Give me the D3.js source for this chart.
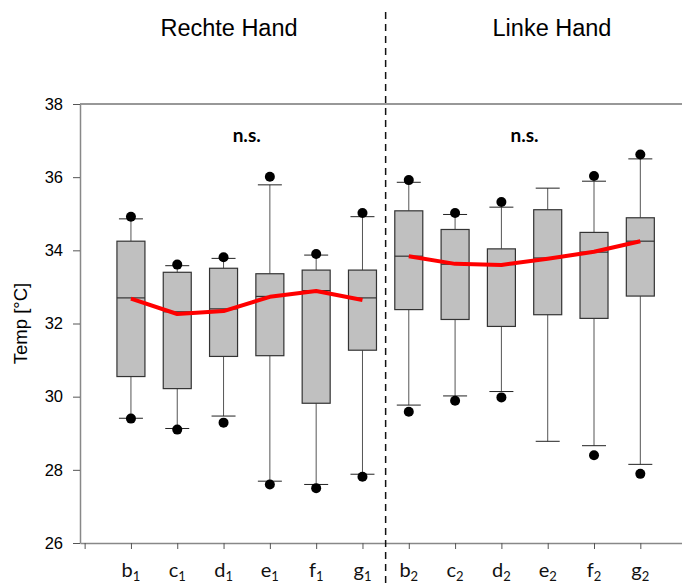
<!DOCTYPE html>
<html><head><meta charset="utf-8">
<script src="https://cdn.jsdelivr.net/npm/d3@7"></script>
<style>body{margin:0;background:#fff}svg{display:block}</style>
</head><body>
<svg id="c" width="682" height="584"></svg>
<script>
// ---- data ----
const groups = ["Rechte Hand", "Linke Hand"];
const catBase = ["b","c","d","e","f","g","b","c","d","e","f","g"];
const catSub  = ["1","1","1","1","1","1","2","2","2","2","2","2"];
const whiskerHigh = [34.86, 33.58, 33.78, 35.79, 33.87, 34.92, 35.86, 34.98, 35.18, 35.70, 35.89, 36.50];
const q3          = [34.25, 33.40, 33.51, 33.36, 33.46, 33.46, 35.08, 34.57, 34.04, 35.11, 34.49, 34.89];
const median      = [32.70, 32.32, 32.40, 32.74, 32.90, 32.70, 33.84, 33.62, 33.61, 33.79, 33.95, 34.25];
const q1          = [30.55, 30.22, 31.10, 31.12, 29.82, 31.27, 32.38, 32.11, 31.92, 32.24, 32.14, 32.75];
const whiskerLow  = [29.41, 29.13, 29.47, 27.69, 27.60, 27.88, 29.77, 30.02, 30.14, 28.78, 28.66, 28.15];
const dotHigh     = [34.92, 33.61, 33.81, 36.01, 33.90, 35.02, 35.92, 35.02, 35.32, null, 36.03, 36.62];
const dotLow      = [29.40, 29.10, 29.29, 27.60, 27.50, 27.81, 29.59, 29.89, 29.98, null, 28.40, 27.89];
const meanRight   = [32.68, 32.26, 32.34, 32.73, 32.89, 32.64];
const meanLeft    = [33.84, 33.63, 33.60, 33.77, 33.96, 34.25];
const yTicks = [26, 28, 30, 32, 34, 36, 38];
const annotation = "n.s.";

// ---- layout ----
const svg = d3.select("#c");
const x = d3.scaleLinear().domain([-0.1, 12.9]).range([80, 682]);
const y = d3.scaleLinear().domain([26, 38]).range([543, 104]);
const boxW = 28, capW = 24;

// top frame line
svg.append("line").attr("x1", x(-0.1)).attr("x2", 682).attr("y1", y(38)).attr("y2", y(38))
  .attr("stroke", "#333").attr("stroke-width", 1.2);

// axes
const yAxis = svg.append("g").attr("transform", `translate(${x(-0.1)},0)`)
  .call(d3.axisLeft(y).tickValues(yTicks).tickSize(7).tickSizeOuter(0).tickPadding(10));
yAxis.select(".domain").attr("stroke", "#888").attr("stroke-width", 1.5);
yAxis.selectAll(".tick line").attr("stroke", "#555");
yAxis.selectAll("text").attr("font-family", "Liberation Sans, Arial, sans-serif").attr("font-size", 16.5).attr("fill", "#000");

const xAxis = svg.append("g").attr("transform", `translate(0,${y(26)})`)
  .call(d3.axisBottom(x).tickValues(d3.range(0, 13)).tickSize(6).tickSizeOuter(0).tickFormat(""));
xAxis.select(".domain").attr("stroke", "#888").attr("stroke-width", 1.5);
xAxis.selectAll(".tick line").attr("stroke", "#555");

// x labels with subscripts
catBase.forEach((b, i) => {
  const t = svg.append("text").attr("x", x(i + 1)).attr("y", 577)
    .attr("text-anchor", "middle").attr("font-family", "Lato, 'Open Sans', sans-serif")
    .attr("font-size", 20).attr("fill", "#111");
  t.append("tspan").text(b);
  t.append("tspan").attr("font-size", 13).attr("dy", 4).text(catSub[i]);
});

// y label
svg.append("text").attr("transform", `translate(27,${(y(26)+y(38))/2}) rotate(-90)`)
  .attr("text-anchor", "middle").attr("font-family", "Liberation Sans, Arial, sans-serif")
  .attr("font-size", 18.5).attr("fill", "#000").text("Temp [°C]");

// boxes
const idx = d3.range(12);
const g = svg.append("g");
idx.forEach(i => {
  const cx = x(i + 1);
  g.append("line").attr("x1", cx).attr("x2", cx).attr("y1", y(q3[i])).attr("y2", y(whiskerHigh[i])).attr("stroke", "#555").attr("stroke-width", 1);
  g.append("line").attr("x1", cx).attr("x2", cx).attr("y1", y(q1[i])).attr("y2", y(whiskerLow[i])).attr("stroke", "#555").attr("stroke-width", 1);
  [whiskerHigh[i], whiskerLow[i]].forEach(v => {
    g.append("line").attr("x1", cx - capW/2).attr("x2", cx + capW/2).attr("y1", y(v)).attr("y2", y(v)).attr("stroke", "#222").attr("stroke-width", 1);
  });
  g.append("rect").attr("x", cx - boxW/2).attr("width", boxW).attr("y", y(q3[i])).attr("height", y(q1[i]) - y(q3[i]))
    .attr("fill", "#c0c0c0").attr("stroke", "#333").attr("stroke-width", 1.2);
  g.append("line").attr("x1", cx - boxW/2).attr("x2", cx + boxW/2).attr("y1", y(median[i])).attr("y2", y(median[i])).attr("stroke", "#333").attr("stroke-width", 1.2);
  [dotHigh[i], dotLow[i]].forEach(v => {
    if (v != null) g.append("circle").attr("cx", cx).attr("cy", y(v)).attr("r", 5).attr("fill", "#000");
  });
});

// mean lines
const line = d3.line().x(d => x(d[0])).y(d => y(d[1]));
[meanRight, meanLeft].forEach((arr, k) => {
  svg.append("path").datum(arr.map((v, j) => [k * 6 + j + 1, v]))
    .attr("d", line).attr("fill", "none").attr("stroke", "#ff0000").attr("stroke-width", 4)
    .attr("stroke-linejoin", "round");
});

// dashed separator
svg.append("line").attr("x1", x(6.5)).attr("x2", x(6.5)).attr("y1", 12).attr("y2", 584)
  .attr("stroke", "#111").attr("stroke-width", 1.5).attr("stroke-dasharray", "7,5");

// group titles and annotations
const titleX = [229, 552];
[3.5, 9.5].forEach((c, k) => {
  svg.append("text").attr("x", titleX[k]).attr("y", 36).attr("text-anchor", "middle")
    .attr("font-family", "Liberation Sans, Arial, sans-serif").attr("font-size", 23.5).attr("fill", "#000").text(groups[k]);
  svg.append("text").attr("x", x(c)).attr("y", 142).attr("text-anchor", "middle")
    .attr("font-family", "Lato, 'Open Sans', sans-serif").attr("font-weight", "bold").attr("font-size", 19).attr("fill", "#000").text(annotation);
});
</script>
</body></html>
